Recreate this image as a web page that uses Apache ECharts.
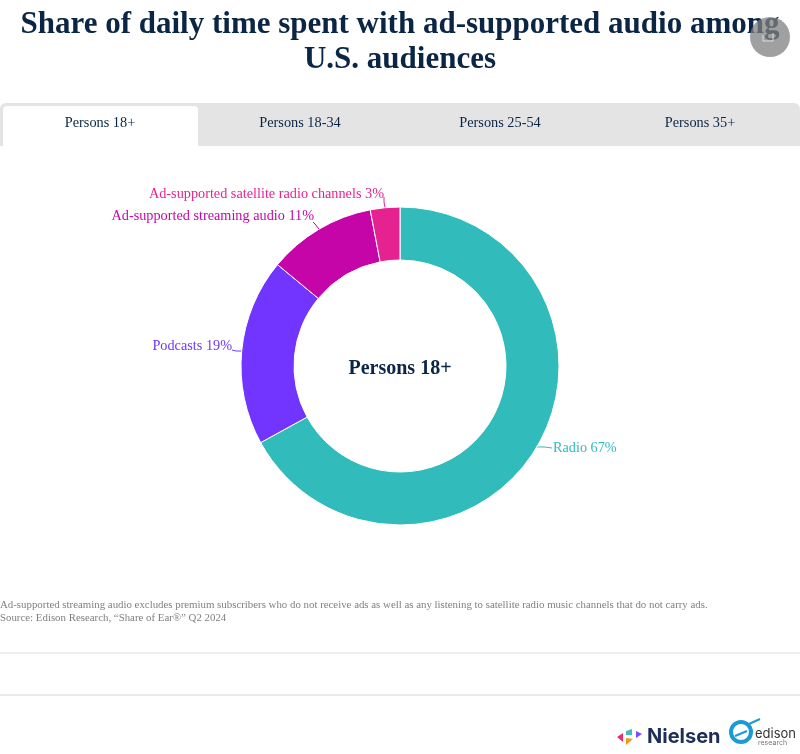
<!DOCTYPE html>
<html><head><meta charset="utf-8">
<style>html,body{margin:0;padding:0;background:#fff}#c{width:800px;height:754px}</style>
<script src="https://cdn.jsdelivr.net/npm/echarts@6/dist/echarts.min.js"></script></head>
<body><div id="c"></div>
<script>
const titleLines = "Share of daily time spent with ad-supported audio among\nU.S. audiences";
const tabs = ["Persons 18+","Persons 18-34","Persons 25-54","Persons 35+"];
const categories = ["Radio","Podcasts","Ad-supported streaming audio","Ad-supported satellite radio channels"];
const values = [67,19,11,3];
const colors = ["#31BBBB","#7135FF","#C505A8","#E62290"];
const centerLabel = "Persons 18+";
const footnote = "Ad-supported streaming audio excludes premium subscribers who do not receive ads as well as any listening to satellite radio music channels that do not carry ads.\nSource: Edison Research, “Share of Ear®” Q2 2024";
const F = '"Liberation Serif", serif';
const labelPos = [{x:553,y:448,align:'left'},{x:232,y:346,align:'right'},{x:314,y:216,align:'right'},{x:384,y:194,align:'right'}];
const leaderEnds = [[[545,447],[552,448]],[[236,351],[232,350]],[[315,224],[313,222]],[[384,202],[384,197]]];
const tabCenters = [100,300,500,700];
const chart = echarts.init(document.getElementById('c'),null,{renderer:'canvas'});
const g = [];
g.push({type:'rect',z:0,shape:{x:0,y:103,width:800,height:43,r:[6,6,0,0]},style:{fill:'#E4E4E4'}});
g.push({type:'rect',z:1,shape:{x:3,y:106,width:195,height:40,r:[4,4,0,0]},style:{fill:'#fff'}});
tabs.forEach((t,i)=>g.push({type:'text',z:2,x:tabCenters[i],y:123,style:{text:t,fill:'#0B2545',font:'14.3px '+F,align:'center',verticalAlign:'middle'}}));
g.push({type:'text',z:2,x:400,y:42,style:{text:titleLines,fill:'#0B2545',font:'bold 31px '+F,align:'center',verticalAlign:'middle',lineHeight:35}});
g.push({type:'text',z:2,x:400,y:369,style:{text:centerLabel,fill:'#0B2545',font:'bold 20px '+F,align:'center',verticalAlign:'middle'}});
g.push({type:'text',z:2,x:0,y:599,style:{text:footnote,fill:'#808080',font:'10.85px '+F,align:'left',verticalAlign:'top',lineHeight:13}});
g.push({type:'rect',z:1,shape:{x:0,y:652,width:800,height:2},style:{fill:'#EEEEF2'}});
g.push({type:'rect',z:1,shape:{x:0,y:694,width:800,height:2},style:{fill:'#EAEAEE'}});
g.push({type:'circle',z:5,shape:{cx:770,cy:37,r:20},style:{fill:'rgba(128,128,128,0.75)'}});
g.push({type:'polyline',z:6,shape:{points:[[763,35],[763,41],[773,41],[773,33]]},style:{fill:'none',stroke:'rgba(235,235,235,0.8)',lineWidth:1}});
// Nielsen mark
g.push({type:'polygon',z:2,shape:{points:[[617,737],[623,733],[623,742]]},style:{fill:'#EE2B6C'}});
g.push({type:'polygon',z:2,shape:{points:[[626,731],[632,729],[632,735],[626,735]]},style:{fill:'#3FBFB5'}});
g.push({type:'polygon',z:2,shape:{points:[[626,738],[633,739],[626,745]]},style:{fill:'#F7941D'}});
g.push({type:'polygon',z:2,shape:{points:[[636,731],[642,734],[636,738]]},style:{fill:'#7B4DFF'}});
g.push({type:'text',z:2,x:647,y:737,style:{text:'Nielsen',fill:'#1E2F55',font:'bold 20px "Inter", sans-serif',align:'left',verticalAlign:'middle'}});
// Edison mark
g.push({type:'ring',z:2,shape:{cx:741,cy:732,r:12,r0:8},style:{fill:'#1C9AD6'}});
g.push({type:'line',z:2,shape:{x1:735,y1:736,x2:747,y2:731},style:{stroke:'#1C9AD6',lineWidth:2}});
g.push({type:'line',z:2,shape:{x1:749,y1:724,x2:760,y2:719},style:{stroke:'#1C9AD6',lineWidth:2}});
g.push({type:'text',z:2,x:755,y:734,style:{text:'edison',fill:'#333',font:'13px "Inter", sans-serif',align:'left',verticalAlign:'middle'}});
g.push({type:'text',z:2,x:758,y:743,style:{text:'research',fill:'#777',font:'7px "Inter", sans-serif',align:'left',verticalAlign:'middle'}});
chart.setOption({
  animation:false,
  graphic:g,
  series:[{
    type:'pie',center:[400,366],radius:[106,159],clockwise:true,startAngle:90,
    data:categories.map((n,i)=>({name:n,value:values[i],itemStyle:{color:colors[i]},
      label:{color:colors[i]},labelLine:{lineStyle:{color:colors[i],width:1}}})),
    itemStyle:{borderColor:'#fff',borderWidth:1},
    label:{show:true,formatter:p=>p.name+' '+p.value+'%',fontFamily:F,fontSize:14.25,position:'outside'},
    labelLine:{show:true,length:8,length2:6,smooth:false},
    labelLayout:p=>{const l=labelPos[p.dataIndex];return {x:l.x,y:l.y,align:l.align,verticalAlign:'middle',hideOverlap:false,
      labelLinePoints:[p.labelLinePoints[0],leaderEnds[p.dataIndex][0],leaderEnds[p.dataIndex][1]]};}
  }]
});
</script></body></html>
